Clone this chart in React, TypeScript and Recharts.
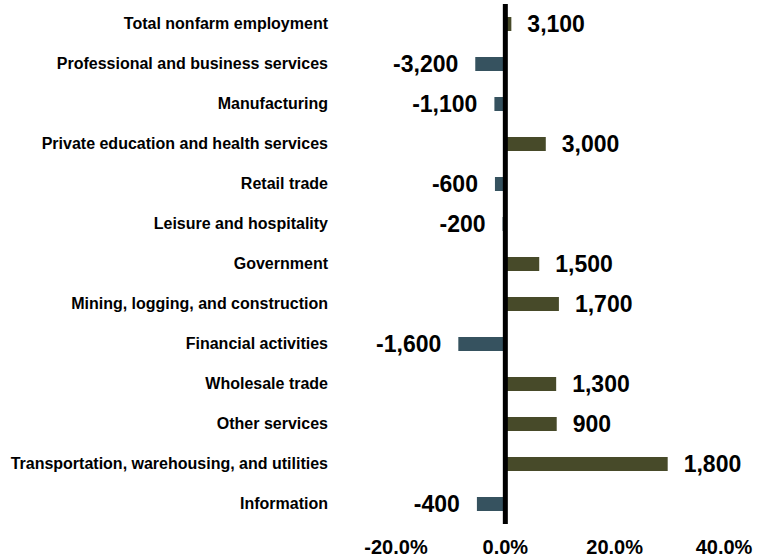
import React from "react";
import {
  BarChart,
  Bar,
  XAxis,
  YAxis,
  Cell,
  LabelList,
  ReferenceLine,
} from "recharts";

const industries = [
  "Total nonfarm employment",
  "Professional and business services",
  "Manufacturing",
  "Private education and health services",
  "Retail trade",
  "Leisure and hospitality",
  "Government",
  "Mining, logging, and construction",
  "Financial activities",
  "Wholesale trade",
  "Other services",
  "Transportation, warehousing, and utilities",
  "Information",
];

// percent change (bar length)
const pctChange = [1.1, -5.5, -2.0, 7.4, -1.9, -0.5, 6.2, 9.8, -8.6, 9.3, 9.4, 29.7, -5.2];

// job change (label)
const jobChange = [3100, -3200, -1100, 3000, -600, -200, 1500, 1700, -1600, 1300, 900, 1800, -400];

const xTicks = [-20, 0, 20, 40];

const POS = "#474a29";
const NEG = "#36525f";
const FONT = "'Liberation Sans', Arial, sans-serif";

const data = industries.map((name, i) => ({
  name,
  pct: pctChange[i],
  jobs: jobChange[i],
}));

const CategoryTick = (props: any) => {
  const { x, y, payload } = props;
  return (
    <text
      x={x - 60}
      y={y}
      dy={5}
      textAnchor="end"
      fontFamily={FONT}
      fontWeight="bold"
      fontSize={16}
      fill="#000"
    >
      {payload.value}
    </text>
  );
};

const PctTick = (props: any) => {
  const { x, y, payload } = props;
  return (
    <text
      x={x}
      y={y + 22}
      textAnchor="middle"
      fontFamily={FONT}
      fontWeight="bold"
      fontSize={20}
      fill="#000"
    >
      {payload.value.toFixed(1) + "%"}
    </text>
  );
};

const JobLabel = (props: any) => {
  const { x, y, width, height, index } = props;
  const v = jobChange[index];
  const neg = v < 0;
  const left = Math.min(x, x + width);
  const right = Math.max(x, x + width);
  return (
    <text
      x={neg ? left - 17 : right + 16}
      y={y + height / 2}
      dy={8}
      textAnchor={neg ? "end" : "start"}
      fontFamily={FONT}
      fontWeight="bold"
      fontSize={23}
      fill="#000"
    >
      {v.toLocaleString("en-US")}
    </text>
  );
};

export default function App() {
  return (
    <div style={{ position: "absolute", left: 0, top: 0, background: "#fff" }}>
      <BarChart
        width={767}
        height={559}
        data={data}
        layout="vertical"
        margin={{ top: 4, right: 43, bottom: 0, left: 0 }}
        barCategoryGap={13}
      >
        <XAxis
          type="number"
          domain={[-20, 40]}
          ticks={xTicks}
          axisLine={false}
          tickLine={false}
          height={35}
          tick={<PctTick />}
        />
        <YAxis
          type="category"
          dataKey="name"
          width={396}
          axisLine={false}
          tickLine={false}
          tick={<CategoryTick />}
          interval={0}
        />
        <Bar dataKey="pct" barSize={14} isAnimationActive={false}>
          {data.map((d, i) => (
            <Cell key={i} fill={d.pct < 0 ? NEG : POS} />
          ))}
          <LabelList dataKey="jobs" content={<JobLabel />} />
        </Bar>
        <ReferenceLine x={0} stroke="#000" strokeWidth={5} />
      </BarChart>
    </div>
  );
}
